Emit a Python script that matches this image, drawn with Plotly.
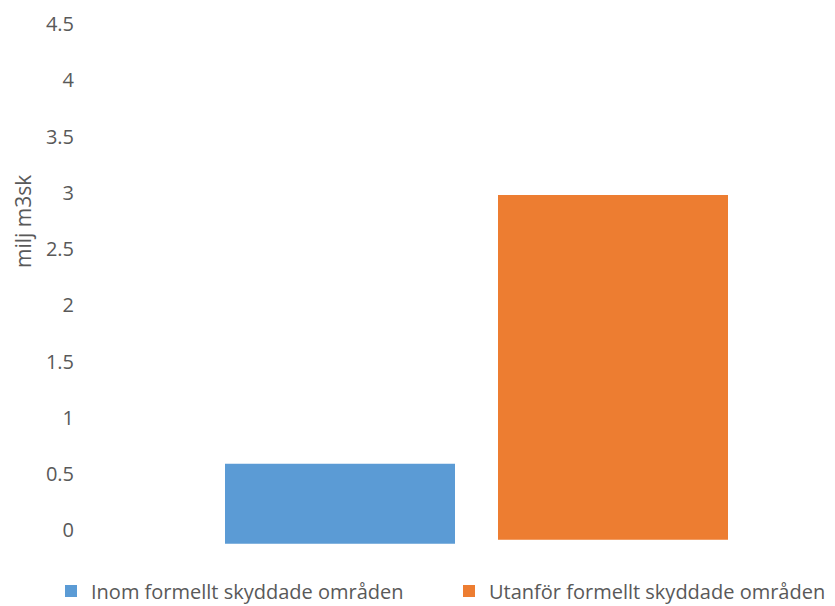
import plotly.graph_objects as go

series_names = ["Inom formellt skyddade områden", "Utanför formellt skyddade områden"]
values = [0.59, 2.98]
colors = ["#5B9BD5", "#ED7D31"]
bar_base = [-0.12, -0.085]
tick_vals = [0, 0.5, 1, 1.5, 2, 2.5, 3, 3.5, 4, 4.5]
tick_text = ["0", "0.5", "1", "1.5", "2", "2.5", "3", "3.5", "4", "4.5"]
y_title = "milj m3sk"

FONT = "Open Sans"
GRAY = "#595959"
FS = 20

# page body has an 8px margin; figure coords = screen coords - 8
OFF = 8
FW, FH = 835 - OFF, 606 - OFF
L, T, W, H = 118 - OFF, 13 - OFF, 717, 534

fig = go.Figure()
for name, v, c, b in zip(series_names, values, colors, bar_base):
    fig.add_trace(go.Bar(
        x=[""], y=[v - b], base=[b], name=name,
        marker=dict(color=c, line=dict(width=0)),
        hoverinfo="skip",
    ))

fig.update_layout(
    width=FW, height=FH,
    margin=dict(l=L, r=FW - L - W, t=T, b=FH - T - H, autoexpand=False),
    paper_bgcolor="white", plot_bgcolor="white",
    barmode="group", bargap=0.2385, bargroupgap=0.1575,
    font=dict(family=FONT, color=GRAY, size=FS),
    showlegend=True,
    legend=dict(
        orientation="h", x=(51 - OFF - L) / W, xanchor="left",
        y=(T + H - (591 - OFF)) / H, yanchor="middle",
        entrywidth=353, entrywidthmode="pixels",
        font=dict(family=FONT, size=20, color=GRAY),
        traceorder="normal",
    ),
    xaxis=dict(showticklabels=False, showline=False, showgrid=False, zeroline=False,
               ticks="", automargin=False),
    yaxis=dict(
        range=[-0.15, 4.6], tickvals=tick_vals, ticktext=tick_text,
        showgrid=False, zeroline=False, showline=False, ticks="",
        ticklabelstandoff=43, automargin=False,
        tickfont=dict(family=FONT, size=FS, color=GRAY),
    ),
    annotations=[dict(
        text=y_title, xref="paper", yref="paper",
        x=(23 - OFF - L) / W, y=(T + H - (221 - OFF)) / H,
        xanchor="center", yanchor="middle", textangle=-90, showarrow=False,
        font=dict(family=FONT, size=21, color=GRAY),
    )],
)

fig.write_html("out.html")
